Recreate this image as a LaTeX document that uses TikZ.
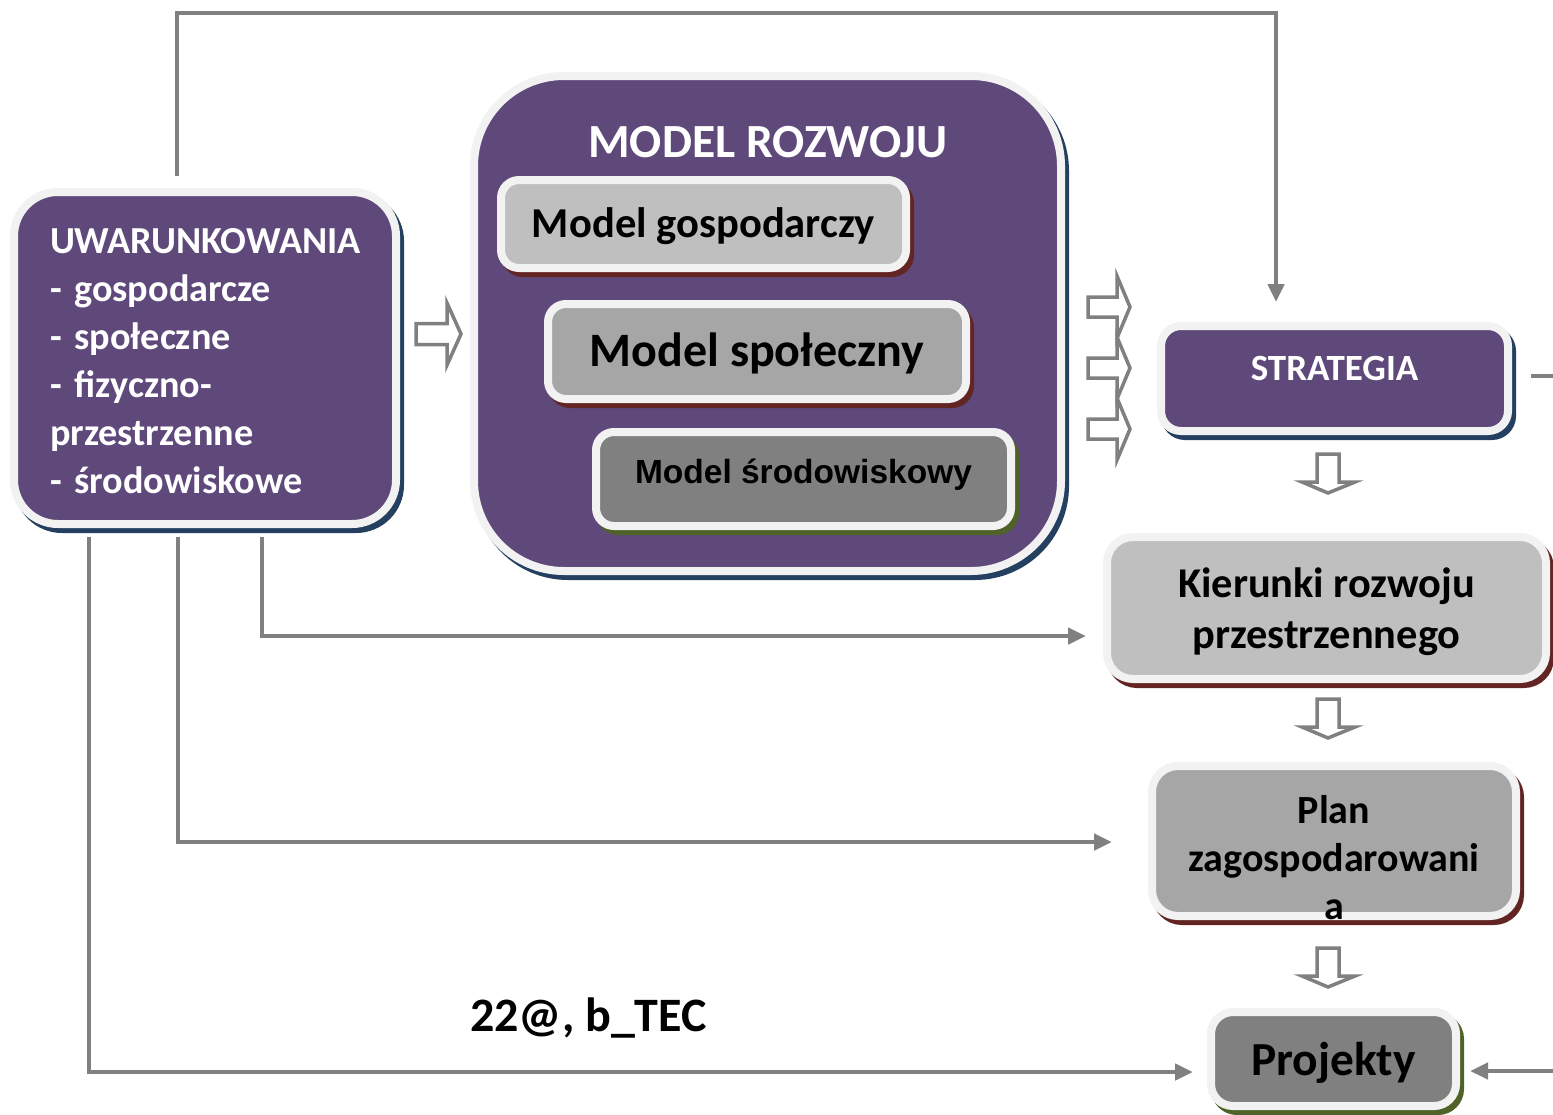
\documentclass[tikz,border=0pt]{standalone}
\usepackage{fontspec}
\setmainfont{Carlito}
\newfontfamily\arialb{Liberation Sans}
\usetikzlibrary{arrows.meta}
\definecolor{purp}{HTML}{5F497A}
\definecolor{bord}{HTML}{F2F2F2}
\definecolor{shblue}{HTML}{243F60}
\definecolor{shred}{HTML}{632523}
\definecolor{shgreen}{HTML}{4F6228}
\definecolor{gA}{HTML}{BFBFBF}
\definecolor{gB}{HTML}{A6A6A6}
\definecolor{gC}{HTML}{808080}
\definecolor{cgray}{HTML}{808080}
\tikzset{
  box/.style={draw=bord, line width=8pt, inner sep=0pt, align=center},
  sh/.style={preaction={draw=#1, fill=#1, line width=8pt, transform canvas={shift={(4pt,-5pt)}}}},
  txt/.style={inner sep=0pt, align=center},
  conn/.style={draw=cgray, line width=4.5pt, -{Triangle[length=18pt,width=16pt]}},
  plainconn/.style={draw=cgray, line width=4.5pt},
  barrow/.style={draw=cgray, line width=3.5pt, fill=white, line join=miter},
}
\begin{document}
\begin{tikzpicture}[x=1pt,y=-1pt]
\useasboundingbox (0,0) rectangle (1553,1114);
\fill[white] (0,0) rectangle (1553,1114);

% boxes
\node[box, fill=purp, sh=shblue, rounded corners=44pt, minimum width=382pt, minimum height=332pt]
  (uw) at (205,358) {};
\node[txt, text width=318pt, align=left, text=white, font=\bfseries\fontsize{38.2}{48}\selectfont]
  (uwt) at ([xshift=4pt,yshift=-3.5pt]uw.center) {UWARUNKOWANIA\\- gospodarcze\\- społeczne\\- fizyczno-\\przestrzenne\\- środowiskowe};

\node[box, fill=purp, sh=shblue, rounded corners=90pt, minimum width=587pt, minimum height=495pt]
  (model) at (767.5,323.5) {};
\node[txt, text=white, font=\bfseries\fontsize{47.6}{52}\selectfont] (mtitle) at (768,142) {MODEL ROZWOJU};

\node[box, fill=gA, sh=shred, rounded corners=18pt, minimum width=405pt, minimum height=88pt] (mg) at (703.5,224) {};
\node[txt, font=\bfseries\fontsize{42.6}{48}\selectfont] (mgt) at ([yshift=-2pt]mg.center) {Model gospodarczy};

\node[box, fill=gB, sh=shred, rounded corners=18pt, minimum width=418pt, minimum height=95pt] (ms) at (757,351.5) {};
\node[txt, font=\bfseries\fontsize{48}{52}\selectfont] (mst) at ([yshift=-2pt]ms.center) {Model społeczny};

\node[box, fill=gC, sh=shgreen, rounded corners=18pt, minimum width=415pt, minimum height=94pt] (me) at (803.5,479) {};
\node[txt, font=\arialb\bfseries\fontsize{33.5}{40}\selectfont] (met) at ([yshift=4pt]me.center) {Model środowiskowy};

\node[box, fill=purp, sh=shblue, rounded corners=20pt, minimum width=347pt, minimum height=105pt] (strat) at (1334.5,378.5) {};
\node[txt, text=white, font=\bfseries\fontsize{37}{42}\selectfont] (stratt) at ([yshift=10pt]strat.center) {STRATEGIA};

\node[box, fill=gA, sh=shred, rounded corners=26pt, minimum width=439pt, minimum height=142pt] (kier) at (1326.5,608) {};
\node[txt, font=\bfseries\fontsize{42.4}{51}\selectfont] (kiert) at ([yshift=-4pt]kier.center) {Kierunki rozwoju\\przestrzennego};

\node[box, fill=gB, sh=shred, rounded corners=26pt, minimum width=364pt, minimum height=150pt] (plan) at (1334,841) {};
\node[txt, font=\bfseries\fontsize{40}{48}\selectfont] (plant) at ([yshift=-17pt]plan.center) {Plan\\zagospodarowani\\a};

\node[box, fill=gC, sh=shgreen, rounded corners=22pt, minimum width=245pt, minimum height=94pt] (proj) at (1333.5,1059) {};
\node[txt, font=\bfseries\fontsize{47.4}{52}\selectfont] (projt) at ([yshift=-4pt]proj.center) {Projekty};

\node[txt, font=\bfseries\fontsize{48}{52}\selectfont] (tec) at (588.5,1018) {22@, b\_TEC};

% connectors
\coordinate (t1) at (177,13);
\coordinate (t2) at (1276,13);
\draw[conn, shorten <=12pt, shorten >=20pt] (uw.north -| t1) -- (t1) -- (t2) -- (strat.north -| t2);

\coordinate (b1) at (262,636);
\draw[conn, shorten <=9pt, shorten >=17pt] (uw.south -| b1) -- (b1) -- (kier.west |- b1);
\coordinate (b2) at (178,842);
\draw[conn, shorten <=9pt, shorten >=36pt] (uw.south -| b2) -- (b2) -- (plan.west |- b2);
\coordinate (b3) at (89,1072);
\draw[conn, shorten <=9pt, shorten >=14pt] (uw.south -| b3) -- (b3) -- (proj.west |- b3);

\coordinate (r1) at (1560,376);
\draw[plainconn, shorten <=19pt] (strat.east |- r1) -- (r1);
\coordinate (r2) at (1560,1071);
\draw[conn, shorten >=10pt] (r2) -- (proj.east |- r2);

% block arrows
\draw[barrow] (416,323.5) -- (447,323.5) -- (447,303) -- (461,334) -- (447,365) -- (447,344.5) -- (416,344.5) -- cycle;
\foreach \c in {307,368,429}{
  \draw[barrow] (1088,\c-10) -- (1117,\c-10) -- (1117,\c-31) -- (1130,\c) -- (1117,\c+31) -- (1117,\c+10) -- (1088,\c+10) -- cycle;
}
\foreach \y in {454,699,948}{
  \draw[barrow] (1317,\y) -- (1339,\y) -- (1339,\y+28) -- (1355,\y+28) -- (1328,\y+39) -- (1302,\y+28) -- (1317,\y+28) -- cycle;
}
\end{tikzpicture}
\end{document}
